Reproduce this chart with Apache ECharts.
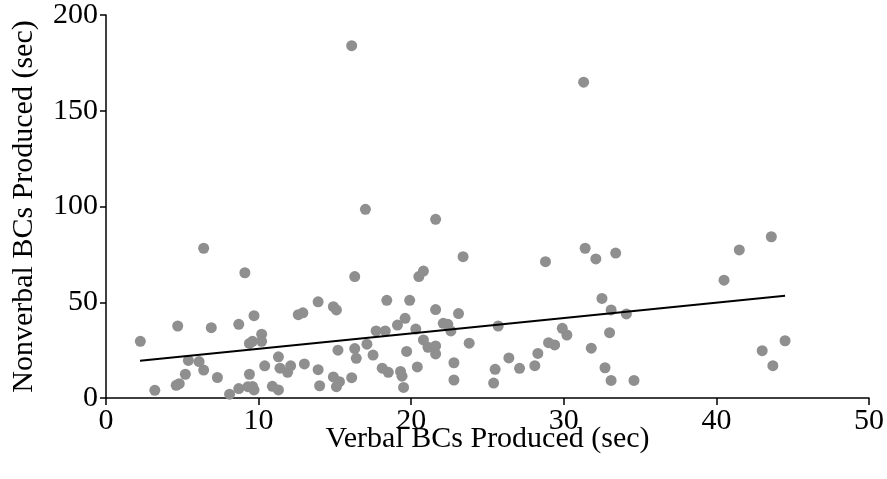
<!DOCTYPE html>
<html>
<head>
<meta charset="utf-8">
<script src="https://cdn.jsdelivr.net/npm/echarts@6/dist/echarts.min.js"></script>
<style>html,body{margin:0;padding:0;background:#fff}#c{width:887px;height:479px}</style>
</head>
<body>
<div id="c"></div>
<script>
const xTicks = [0, 10, 20, 30, 40, 50];
const yTicks = [0, 50, 100, 150, 200];
const xName = 'Verbal BCs Produced (sec)';
const yName = 'Nonverbal BCs Produced (sec)';
const points = [
[2.25,29.6],[3.2,4.0],[4.6,6.6],[4.8,7.5],[4.7,37.6],[5.2,12.4],[5.4,19.6],[6.1,19.0],
[6.4,78.2],[6.4,14.6],[6.9,36.7],[7.3,10.7],[8.1,2.0],[8.7,38.5],[8.7,4.9],[9.1,65.4],
[9.3,5.9],[9.6,6.0],[9.7,4.2],[9.4,12.4],[9.4,28.5],[9.6,29.6],[9.7,43.0],[10.2,33.3],
[10.2,29.6],[10.4,16.8],[10.9,6.1],[11.3,4.2],[11.3,21.5],[11.4,15.6],[11.9,13.4],[12.1,16.8],
[12.6,43.5],[12.9,44.5],[13.0,17.8],[13.9,50.2],[13.9,14.8],[14.0,6.4],[14.9,11.0],[14.9,47.7],
[15.1,46.0],[15.2,25.0],[15.1,5.9],[15.3,8.5],[16.1,184],[16.1,10.6],[16.3,63.4],[16.3,25.8],
[16.4,20.7],[17.0,98.5],[17.1,28.1],[17.5,22.4],[17.7,35.0],[18.1,15.6],[18.3,35.0],[18.4,51.0],
[18.5,13.4],[19.1,38.1],[19.3,13.9],[19.4,11.4],[19.5,5.5],[19.6,41.6],[19.7,24.3],[19.9,51.0],
[20.3,36.0],[20.5,63.4],[20.4,16.2],[20.8,66.3],[20.8,30.3],[21.1,26.5],[21.6,93.3],[21.6,46.2],
[21.6,27.2],[21.6,23.0],[22.1,39.0],[22.4,38.5],[22.6,35.0],[22.8,18.4],[22.8,9.4],[23.1,44.1],
[23.4,73.8],[23.8,28.6],[25.4,7.8],[25.5,15.0],[25.7,37.6],[26.4,20.9],[27.1,15.5],[28.1,16.9],
[28.3,23.3],[28.8,71.2],[29.0,28.9],[29.4,27.7],[29.9,36.4],[30.2,32.9],[31.3,164.9],[31.4,78.2],
[31.8,26.0],[32.1,72.6],[32.5,52.0],[32.7,15.8],[33.0,34.1],[33.1,46.0],[33.1,9.2],[33.4,75.7],
[34.1,43.9],[34.6,9.2],[40.5,61.5],[41.5,77.3],[43.0,24.7],[43.6,84.2],[43.7,16.9],[44.5,29.9]
];
const fitLine = [[2.23, 19.5], [44.5, 53.4]];

const font = 'Liberation Serif';
const fs = 30;
const chart = echarts.init(document.getElementById('c'), null, {renderer: 'canvas'});
chart.setOption({
  animation: false,
  backgroundColor: '#fff',
  grid: {left: 106, right: 15, top: 15, bottom: 81, containLabel: false},
  xAxis: {
    type: 'value', min: xTicks[0], max: xTicks[xTicks.length - 1], interval: 10,
    name: xName, nameLocation: 'middle', nameGap: 26, nameMoveOverlap: false,
    nameTextStyle: {fontFamily: font, fontSize: fs, color: '#000'},
    axisLine: {show: true, lineStyle: {color: '#000', width: 1.5}},
    axisTick: {show: true, length: 7, lineStyle: {color: '#000', width: 1.5}},
    axisLabel: {fontFamily: font, fontSize: fs, color: '#000', margin: 8},
    splitLine: {show: false}
  },
  yAxis: {
    type: 'value', min: yTicks[0], max: yTicks[yTicks.length - 1], interval: 50,
    name: yName, nameLocation: 'middle', nameGap: 67, nameRotate: 90, nameMoveOverlap: false,
    nameTextStyle: {fontFamily: font, fontSize: fs, color: '#000'},
    axisLine: {show: true, lineStyle: {color: '#000', width: 1.5}},
    axisTick: {show: true, length: 6, lineStyle: {color: '#000', width: 1.5}},
    axisLabel: {fontFamily: font, fontSize: fs, color: '#000', margin: 8},
    splitLine: {show: false}
  },
  series: [
    {type: 'scatter', data: points, symbolSize: 11, itemStyle: {color: '#8f8f8f', opacity: 1}, z: 2},
    {type: 'line', data: fitLine, showSymbol: false, symbol: 'none', lineStyle: {color: '#000', width: 2}, z: 3}
  ]
});
</script>
</body>
</html>
